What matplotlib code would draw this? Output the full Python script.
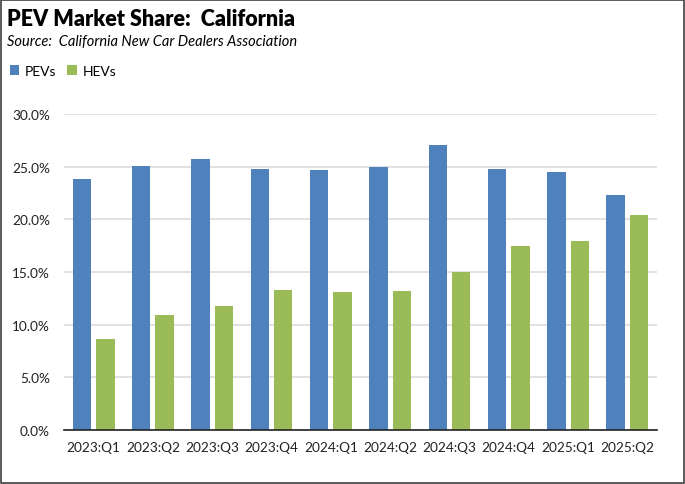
import numpy as np
import matplotlib.pyplot as plt
from matplotlib.patches import Rectangle
from matplotlib.ticker import FuncFormatter

quarters = ['2023:Q1', '2023:Q2', '2023:Q3', '2023:Q4', '2024:Q1',
            '2024:Q2', '2024:Q3', '2024:Q4', '2025:Q1', '2025:Q2']
pev_share = [23.8, 25.1, 25.7, 24.8, 24.7, 25.0, 27.1, 24.8, 24.5, 22.3]
hev_share = [8.6, 10.9, 11.8, 13.3, 13.1, 13.2, 15.0, 17.5, 17.9, 20.4]

plt.rcParams['font.family'] = ['Lato', 'DejaVu Sans']

fig = plt.figure(figsize=(6.85, 4.85), dpi=100)
W, H = 685, 485
# plot area in pixels: left 64, right 657, top 115, bottom 431
ax = fig.add_axes([64 / W, 1 - 431 / H, (657 - 64) / W, (431 - 115) / H])

x = np.arange(len(quarters))
bw = 0.31
off = 0.197
ax.bar(x - off, pev_share, bw, color='#4F81BD', label='PEVs', zorder=3)
ax.bar(x + off, hev_share, bw, color='#9BBB59', label='HEVs', zorder=3)

ax.set_xlim(-0.5, len(quarters) - 0.5)
ax.set_ylim(0, 30)
ax.set_yticks(np.arange(0, 31, 5))
ax.yaxis.set_major_formatter(FuncFormatter(lambda v, p: f'{v:.1f}%'))
ax.set_xticks(x)
ax.set_xticklabels(quarters)
ax.tick_params(axis='both', length=0, labelsize=9.8, colors='#222222')
ax.tick_params(axis='x', pad=8)
ax.tick_params(axis='y', pad=10)
ax.grid(axis='y', color='#d9d9d9', linewidth=1.1, zorder=0)
for s in ['top', 'right', 'left']:
    ax.spines[s].set_visible(False)
ax.spines['bottom'].set_color('#222222')
ax.spines['bottom'].set_linewidth(1.2)
ax.spines['bottom'].set_zorder(4)

fig.text(7 / W, 1 - 20 / H, 'PEV Market Share:  California', fontsize=15.5,
         fontweight='heavy', va='center', ha='left')
fig.text(7 / W, 1 - 42 / H, 'Source:  California New Car Dealers Association',
         fontsize=10.5, style='italic', va='center', ha='left')

leg = fig.legend(loc='center left', bbox_to_anchor=(4 / W, 1 - 72 / H), ncol=2,
                 frameon=False, fontsize=10, handlelength=0.7, handleheight=0.7,
                 handletextpad=0.4, columnspacing=0.8, borderaxespad=0)

fig.patches.append(Rectangle((0.002, 0.002), 0.996, 0.996, transform=fig.transFigure,
                             fill=False, edgecolor='#404040', linewidth=1.2))

fig.savefig('out.png', dpi=100)
